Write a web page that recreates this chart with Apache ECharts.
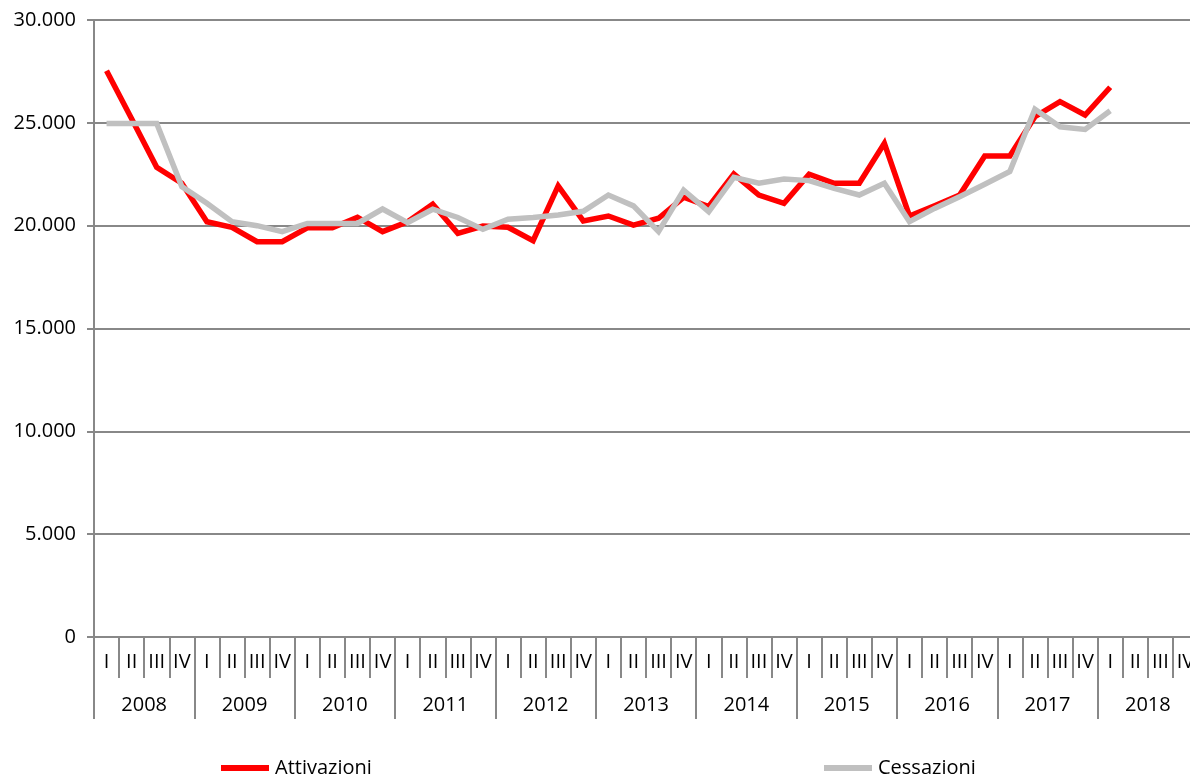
<!DOCTYPE html>
<html>
<head>
<meta charset="utf-8">
<script src="https://cdn.jsdelivr.net/npm/echarts@6/dist/echarts.min.js"></script>
<style>
html,body{margin:0;padding:0;background:#fff;}
#c{width:1190px;height:778px;}
</style>
</head>
<body>
<div id="c"></div>
<script>
const years = ['2008','2009','2010','2011','2012','2013','2014','2015','2016','2017','2018'];
const quarterNames = ['I','II','III','IV'];
const yTicks = [0, 5000, 10000, 15000, 20000, 25000, 30000];

const attivazioni = [
  27530, 25200, 22840, 22060,
  20190, 19920, 19220, 19220,
  19900, 19900, 20410, 19710,
  20190, 21050, 19630, 19980,
  19920, 19270, 21930, 20230,
  20470, 20030, 20360, 21380,
  20930, 22510, 21490, 21090,
  22500, 22060, 22060, 24000,
  20470, 20970, 21490, 23390,
  23390, 25300, 26030, 25380,
  26730
];
const cessazioni = [
  24970, 24970, 24970, 21900,
  21090, 20190, 20000, 19710,
  20110, 20110, 20110, 20810,
  20150, 20800, 20400, 19820,
  20310, 20400, 20520, 20700,
  21490, 20960, 19710, 21730,
  20680, 22350, 22060, 22270,
  22190, 21810, 21490, 22060,
  20190, 20840, 21410, 22010,
  22630, 25660, 24810, 24680,
  25590
];

const quarters = [];
years.forEach(y => quarterNames.forEach(q => quarters.push(q)));

function fmt(v){ return String(v).replace(/\B(?=(\d{3})+(?!\d))/g, '.'); }

const FONT = 'Open Sans';
const FS = 20;
const GRAY = '#888888';

const chart = echarts.init(document.getElementById('c'), null, {renderer:'canvas'});
chart.setOption({
  animation: false,
  backgroundColor: '#fff',
  textStyle: {fontFamily: FONT},
  grid: {left: 94, top: 20, width: 1104, height: 617, containLabel: false, outerBoundsMode: 'none'},
  legend: [
    {
      data: ['Attivazioni'], left: 221, top: 758, padding: 0, itemWidth: 48, itemHeight: 6, icon: 'rect',
      itemGap: 6, textStyle: {fontFamily: FONT, fontSize: FS, color: '#000', padding: [0,0,0,1]}
    },
    {
      data: ['Cessazioni'], left: 824, top: 758, padding: 0, itemWidth: 48, itemHeight: 6, icon: 'rect',
      itemGap: 6, textStyle: {fontFamily: FONT, fontSize: FS, color: '#000', padding: [0,0,0,1]}
    }
  ],
  xAxis: [
    {
      type: 'category', data: quarters, boundaryGap: true, position: 'bottom',
      axisLine: {show: true, lineStyle: {color: GRAY, width: 2}},
      axisTick: {show: true, interval: 0, length: 41, lineStyle: {color: GRAY, width: 2}},
      axisLabel: {interval: 0, margin: 15, fontFamily: FONT, fontSize: FS, color: '#000', hideOverlap: false},
      splitLine: {show: false}
    },
    {
      type: 'category', data: years, boundaryGap: true, position: 'bottom',
      axisLine: {show: false},
      axisTick: {show: true, interval: 0, length: 82, lineStyle: {color: GRAY, width: 2}},
      axisLabel: {interval: 0, margin: 58, fontFamily: FONT, fontSize: FS, color: '#000'},
      splitLine: {show: false}
    }
  ],
  yAxis: {
    type: 'value', min: yTicks[0], max: yTicks[yTicks.length-1], interval: 5000,
    axisLine: {show: true, lineStyle: {color: GRAY, width: 2}},
    axisTick: {show: true, length: 7, lineStyle: {color: GRAY, width: 2}},
    axisLabel: {margin: 18, fontFamily: FONT, fontSize: FS, color: '#000', formatter: v => fmt(v)},
    splitLine: {show: true, lineStyle: {color: GRAY, width: 2}}
  },
  series: [
    {
      name: 'Attivazioni', type: 'line', data: attivazioni, xAxisIndex: 0,
      showSymbol: false, symbol: 'none', smooth: false,
      lineStyle: {color: '#FF0000', width: 5.5, join: 'miter'},
      itemStyle: {color: '#FF0000'}
    },
    {
      name: 'Cessazioni', type: 'line', data: cessazioni, xAxisIndex: 0,
      showSymbol: false, symbol: 'none', smooth: false,
      lineStyle: {color: '#C0C0C0', width: 5.5, join: 'miter'},
      itemStyle: {color: '#C0C0C0'}
    }
  ]
});
</script>
</body>
</html>
